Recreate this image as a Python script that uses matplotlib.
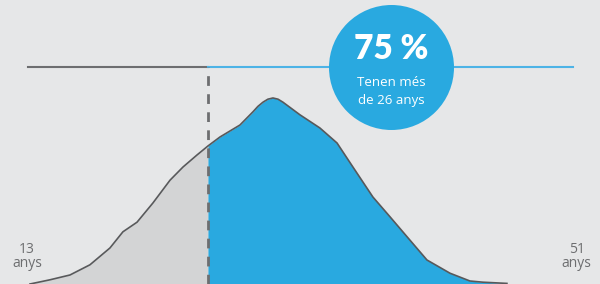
import numpy as np
import matplotlib.pyplot as plt

# Age distribution (share per age)
ages = [13.0, 14.46, 15.92, 17.38, 18.84, 19.79, 20.82, 21.98, 23.23, 24.18,
        25.20, 26.0, 26.88, 28.34, 29.29, 29.65, 30.02, 30.38, 30.75, 31.12,
        31.48, 32.72, 34.18, 35.43, 36.59, 38.05, 39.30, 40.61, 42.0, 43.68,
        45.14, 46.09, 47.84]
share = [0.0, 0.07, 0.15, 0.32, 0.60, 0.87, 1.03, 1.35, 1.73, 1.95,
         2.15, 2.30, 2.45, 2.65, 2.87, 2.96, 3.03, 3.08, 3.10, 3.08,
         3.03, 2.82, 2.60, 2.35, 1.95, 1.45, 1.12, 0.77, 0.40, 0.18,
         0.05, 0.03, 0.01]

cut_age = 26
pct_label = "75 %"
sub_label = "Tenen més\nde 26 anys"
min_label = "13\nanys"
max_label = "51\nanys"

BG = "#e6e7e8"
BLUE = "#29a9e0"
LIGHTBLUE = "#4db3e6"
GREY_FILL = "#d3d4d5"
GREY_LINE = "#6d6e70"
CURVE = "#58595b"

plt.rcParams['font.family'] = ['Lato', 'DejaVu Sans']
small_font = ['Open Sans', 'DejaVu Sans']

fig = plt.figure(figsize=(6, 2.84), dpi=100)
fig.patch.set_facecolor(BG)
ax = fig.add_axes([0, 0, 1, 1])
ax.set_facecolor(BG)
ax.set_xlim(10.81, 54.64)
ax.set_ylim(0, 4.733)
ax.axis('off')

x = np.array(ages)
y = np.array(share)
ax.fill_between(x, y, where=x <= cut_age, color=GREY_FILL, lw=0, zorder=1)
ax.fill_between(x, y, where=x >= cut_age, color=BLUE, lw=0, zorder=1)
ax.plot(x, y, color=CURVE, lw=1.2, zorder=3, solid_joinstyle='round')

# reference line on top
top = 3.617
ax.plot([12.85, cut_age], [top, top], color=GREY_LINE, lw=1.5, zorder=2)
ax.plot([cut_age, 52.66], [top, top], color=LIGHTBLUE, lw=1.5, zorder=2)
ax.plot([cut_age, cut_age], [0, top], color=GREY_LINE, lw=2,
        linestyle=(0, (3.5, 3)), zorder=4)

# bubble
cx = 39.37
ax.scatter([cx], [top], s=90 ** 2, color=BLUE, lw=0, zorder=5)
ax.text(cx, 3.75, pct_label, color='white', fontsize=24, fontweight='heavy',
        ha='center', va='baseline', zorder=6)
t1, t2 = sub_label.split("\n")
ax.text(cx, 3.30, t1, color='white', fontsize=9.5, family=small_font,
        ha='center', va='baseline', zorder=6)
ax.text(cx, 3.00, t2, color='white', fontsize=9.5, family=small_font,
        ha='center', va='baseline', zorder=6)

# end labels
for xpos, lab in [(12.78, min_label), (52.93, max_label)]:
    a, b = lab.split("\n")
    ax.text(xpos, 0.517, a, color=GREY_LINE, fontsize=10, family=small_font,
            ha='center', va='baseline')
    ax.text(xpos, 0.283, b, color=GREY_LINE, fontsize=10, family=small_font,
            ha='center', va='baseline')

fig.savefig('out.png', dpi=100, facecolor=BG)
